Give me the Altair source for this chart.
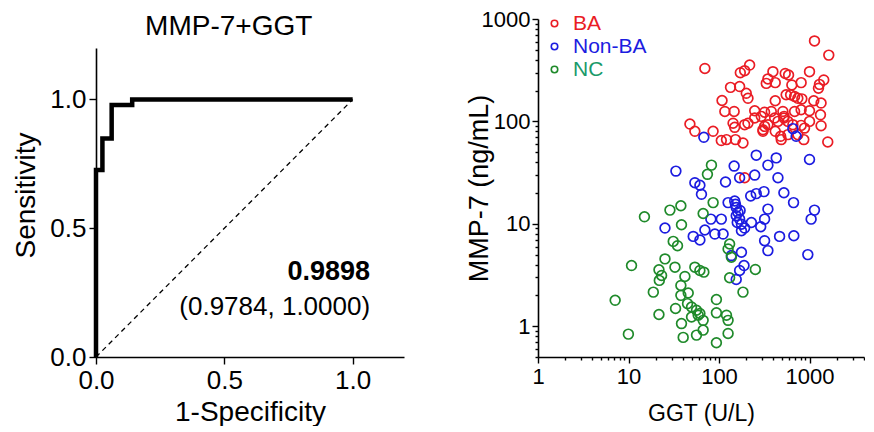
import altair as alt
import pandas as pd

FONT = "Liberation Sans"

# ---------------- ROC panel data ----------------
roc_fpr = [0.0, 0.0, 0.025, 0.061, 0.141, 1.0]
roc_tpr = [0.0, 0.726, 0.849, 0.979, 1.0, 1.0]
diag_fpr = [0.0, 1.0]
diag_tpr = [0.0, 1.0]
auc_labels = ["0.9898", "(0.9784, 1.0000)"]
auc_fpr = [1.068, 1.068]
auc_tpr = [0.299, 0.163]
panel_title = "MMP-7+GGT"
panel_title_fpr = 0.517
panel_title_tpr = 1.25

# ---------------- Scatter panel data ----------------
ba_ggt = [1135, 1633, 69.8, 218, 192, 172, 394, 347, 333, 418, 539, 587, 638, 808, 1000,
          1437, 1288, 1256, 134, 169, 200, 209, 418, 552, 618, 684, 743, 823, 1115, 1342,
          108, 116, 147, 248, 319, 684, 808, 1000, 1322, 143, 149, 192, 209, 248, 293,
          306, 319, 347, 412, 448, 521, 577, 655, 808, 881, 1000, 1342, 86, 106, 121,
          152, 184, 306, 418, 480, 487, 577, 743, 865, 1591, 47.7, 54.1, 192, 378, 508, 524]
ba_mmp7 = [611, 444, 329, 355, 313, 299, 306, 260, 235, 239, 294, 284, 227, 239, 306,
           254, 230, 211, 215, 219, 188, 168, 159, 182, 182, 175, 168, 166, 159, 151,
           160, 125, 125, 127, 123, 125, 130, 127, 116, 96, 87.5, 92.9, 96, 108, 112,
           83, 89.4, 92.9, 108, 100, 108, 100, 92.9, 91.4, 86, 100, 90.8, 80, 65, 66.4,
           66.4, 61.6, 80, 80, 71.5, 66.4, 74.3, 74.3, 66.4, 63, 94.2, 80, 28.2, 125, 125, 112]

nonba_ggt = [68.0, 655, 712, 258, 429, 1000, 33.4, 147, 248, 347, 448, 54.1, 61.5, 64,
             118, 169, 224, 258, 314, 521, 666, 1135, 1042, 126, 149, 155, 347, 162, 155,
             169, 159, 177, 81.3, 106, 228, 319, 289, 192, 25.3, 69.8, 89.9, 111, 51.9,
             61.5, 177, 467, 671, 319, 347, 958, 137, 177, 189, 169, 155, 152, 171]
nonba_mmp7 = [69.9, 85, 71.5, 46.8, 44, 42.5, 32.7, 36.6, 29.9, 37.4, 28.2, 25.2, 23.8, 19.4,
              25.6, 28.2, 18.7, 19.7, 20.6, 20.1, 16.1, 13.6, 11.1, 16.1, 16.7, 14.4, 13.9, 12.9, 12.0,
              11.1, 10.3, 9.9, 11.1, 11.1, 10.3, 11.1, 9.35, 9.08, 9.08, 8.69, 7.94, 7.94, 7.53,
              6.95, 8.55, 7.53, 7.64, 6.84, 5.47, 5.0, 4.89, 5.27, 3.91, 3.50, 2.86, 15.5, 13.5]

nc_ggt = [82.5, 74.5, 86.1, 37.9, 28.7, 66.8, 15.0, 38.5, 31.2, 34.8, 131, 126, 137, 10.8,
          25.3, 21.7, 23.2, 21.9, 32.6, 42.0, 54.1, 61.5, 68.0, 131, 252, 184, 18.8, 37.9,
          37.9, 45.7, 7.12, 33.1, 44.9, 49.7, 56.4, 61.5, 93.6, 93.6, 121, 126, 21.7, 38.5,
          66.8, 9.97, 40.2, 56.4, 93.6, 126, 58.9, 66.8, 49.7]
nc_mmp7 = [37.4, 30.4, 16.1, 15.0, 13.6, 12.6, 11.7, 9.78, 6.73, 6.11, 6.35, 5.68, 4.71, 3.91,
           4.54, 3.55, 3.13, 2.80, 3.77, 3.06, 3.77, 3.50, 3.37, 2.97, 3.58, 2.15, 2.15, 2.50,
           2.0, 2.11, 1.79, 1.49, 1.66, 1.54, 1.43, 1.33, 1.82, 1.35, 1.28, 1.14, 1.30, 1.06,
           0.915, 0.836, 0.777, 0.818, 0.689, 0.849, 1.28, 1.14, 1.23]

groups = ["BA", "Non-BA", "NC"]
group_colors = ["#ea1c24", "#1c1ce0", "#1f8a2a"]

y_ticks = [0.5, 0.6, 0.7, 0.8, 0.9, 1, 2, 3, 4, 5, 6, 7, 8, 9, 10, 20, 30, 40, 50, 60, 70, 80, 90,
           100, 200, 300, 400, 500, 600, 700, 800, 900, 1000]
x_ticks = [1, 2, 3, 4, 5, 6, 7, 8, 9, 10, 20, 30, 40, 50, 60, 70, 80, 90, 100, 200, 300, 400,
           500, 600, 700, 800, 900, 1000, 2000, 3000, 4000]

# ---------------- build tables ----------------
roc_df = pd.DataFrame({"fpr": roc_fpr, "tpr": roc_tpr, "i": list(range(len(roc_fpr)))})
diag_df = pd.DataFrame({"fpr": diag_fpr, "tpr": diag_tpr, "i": [0, 1]})
auc_df = pd.DataFrame({"fpr": auc_fpr, "tpr": auc_tpr, "label": auc_labels,
                       "bold": [True, False]})
title_df = pd.DataFrame({"fpr": [panel_title_fpr], "tpr": [panel_title_tpr], "label": [panel_title]})

rows = []
for g, xs, ys in [("BA", ba_ggt, ba_mmp7), ("Non-BA", nonba_ggt, nonba_mmp7), ("NC", nc_ggt, nc_mmp7)]:
    for a, b in zip(xs, ys):
        rows.append({"GGT": a, "MMP7": b, "group": g})
sc_df = pd.DataFrame(rows)

# ---------------- ROC panel ----------------
H = 338
W_LEFT = 308

x_roc = alt.X("fpr:Q", scale=alt.Scale(domain=[0, 1.2], nice=False, zero=False),
              axis=alt.Axis(values=[0, 0.5, 1.0], format=".1f", title="1-Specificity",
                            labelFontSize=26, titleFontSize=28, tickSize=7, labelPadding=3,
                            labelFlush=False, titlePadding=5))
y_roc = alt.Y("tpr:Q", scale=alt.Scale(domain=[0, 1.2], range=[H, H - 309], nice=False, zero=False),
              axis=alt.Axis(values=[0, 0.5, 1.0], format=".1f", title="Sensitivity",
                            labelFontSize=26, titleFontSize=28, tickSize=7, labelPadding=3,
                            labelFlush=False,
                            titleX=-62, titleY=176, titleBaseline="alphabetic"))

roc_line = alt.Chart(roc_df).mark_line(interpolate="step-after", color="black",
                                       strokeWidth=4.5, strokeJoin="miter").encode(
    x=x_roc, y=y_roc, order="i:Q")
diag_line = alt.Chart(diag_df).mark_line(color="black", strokeWidth=1.3,
                                         strokeDash=[5, 4]).encode(x=x_roc, y=y_roc, order="i:Q")
auc_bold = alt.Chart(auc_df).transform_filter("datum.bold").mark_text(
    align="right", baseline="alphabetic", fontSize=27, fontWeight="bold", color="black",
    font=FONT).encode(x=x_roc, y=y_roc, text="label:N")
auc_ci = alt.Chart(auc_df).transform_filter("!datum.bold").mark_text(
    align="right", baseline="alphabetic", fontSize=26, color="black",
    font=FONT).encode(x=x_roc, y=y_roc, text="label:N")
title_text = alt.Chart(title_df).mark_text(
    align="center", baseline="alphabetic", fontSize=28, color="black",
    font=FONT).encode(x=x_roc, y=y_roc, text="label:N")

left = alt.layer(diag_line, roc_line, auc_bold, auc_ci, title_text).properties(
    width=W_LEFT, height=H)

# ---------------- Scatter panel ----------------
major_test = "indexof([1, 10, 100, 1000], datum.value) >= 0"
label_expr = "indexof([1, 10, 100, 1000], datum.value) >= 0 ? format(datum.value, 'd') : ''"

scatter = alt.Chart(sc_df).mark_point(shape="circle", filled=False, size=95,
                                      strokeWidth=1.7, opacity=1).encode(
    x=alt.X("GGT:Q", scale=alt.Scale(type="log", domain=[1, 4000], nice=False),
            axis=alt.Axis(values=x_ticks, labelExpr=label_expr, title="GGT (U/L)",
                          labelFontSize=22, titleFontSize=23, labelPadding=3,
                          labelOverlap=False, labelFlush=False, titlePadding=15,
                          tickSize={"condition": {"test": major_test, "value": 6}, "value": 3})),
    y=alt.Y("MMP7:Q", scale=alt.Scale(type="log", domain=[0.5, 1000], nice=False),
            axis=alt.Axis(values=y_ticks, labelExpr=label_expr, title="MMP-7 (ng/mL)",
                          labelFontSize=22, titleFontSize=27, labelPadding=2,
                          labelOverlap=False, labelFlush=False, titleX=-51,
                          titleBaseline="alphabetic",
                          tickSize={"condition": {"test": major_test, "value": 6}, "value": 3})),
    color=alt.Color("group:N", scale=alt.Scale(domain=groups, range=group_colors),
                    sort=groups,
                    legend=alt.Legend(title=None, orient="none", legendX=6, legendY=-6,
                                      labelFontSize=21, symbolSize=42, symbolStrokeWidth=1.6,
                                      symbolType="circle", rowPadding=1, labelOffset=8,
                                      padding=0,
                                      labelColor=alt.ExprRef(
                                          expr="datum.label == 'BA' ? '#ea1c24' : datum.label == 'Non-BA' ? '#1c1ce0' : '#1a9a6a'"))),
    order=alt.Order("ord:Q"),
).transform_calculate(ord="datum.group == 'BA' ? 0 : datum.group == 'Non-BA' ? 1 : 2"
).properties(width=326, height=H)

chart = alt.hconcat(left, scatter, spacing=61).resolve_legend(color="independent").properties(
    padding={"left": 4, "top": 0, "right": 0, "bottom": 0}
).configure(font=FONT).configure_view(stroke=None).configure_axis(
    grid=False, domainColor="black", domainWidth=1.6, tickColor="black", tickWidth=1.4,
    labelColor="black", titleColor="black", labelFont=FONT, titleFont=FONT,
    titleFontWeight="normal"
).configure_legend(labelFont=FONT)

chart.save("out.html", embed_options={"renderer": "svg", "actions": False})
